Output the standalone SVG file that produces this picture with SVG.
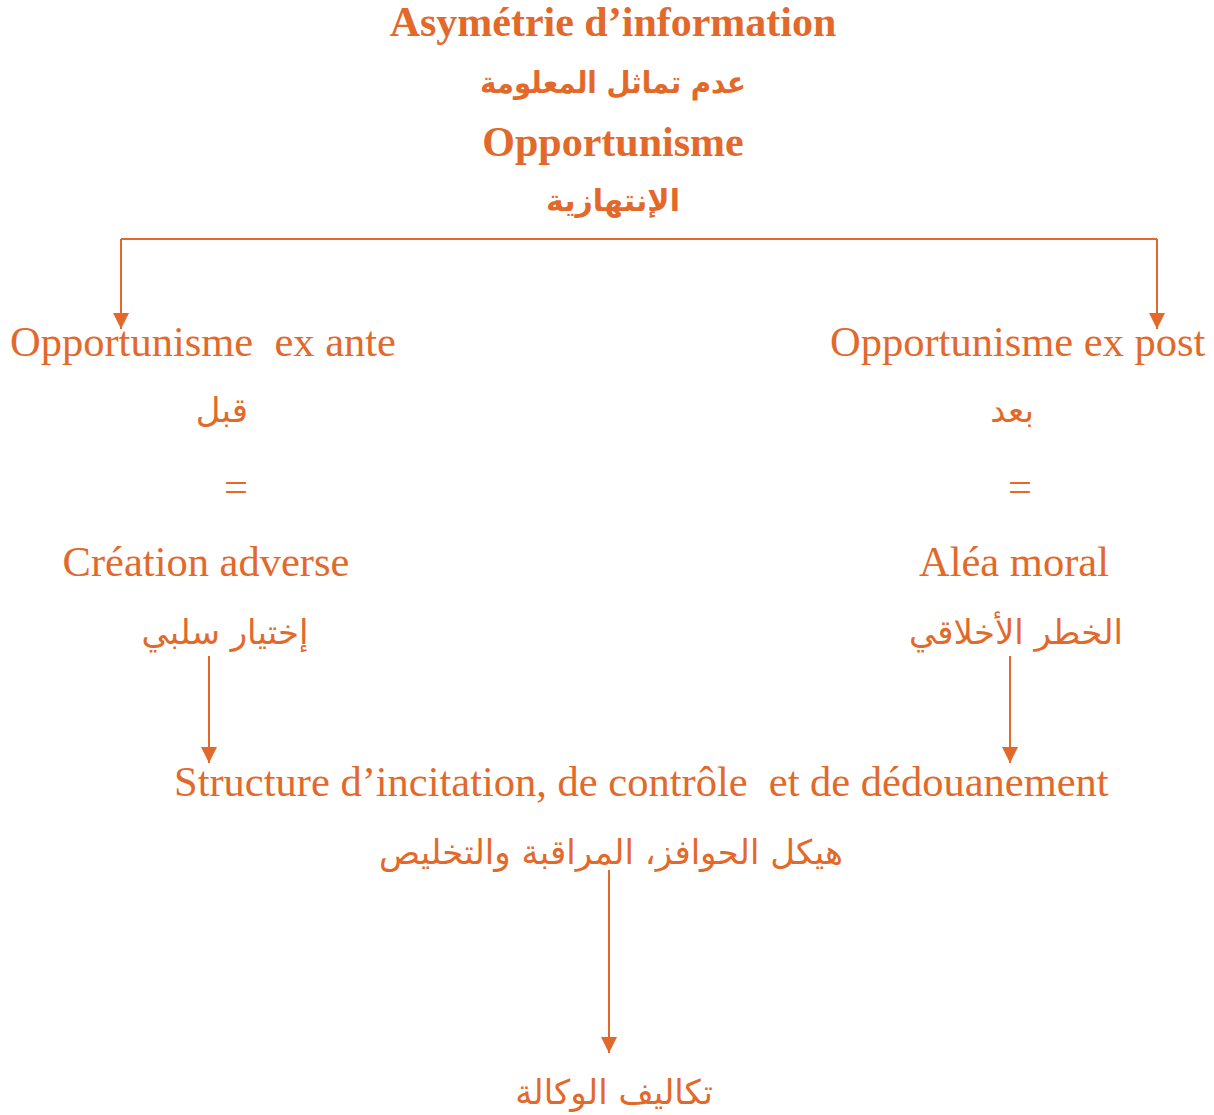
<svg xmlns="http://www.w3.org/2000/svg" width="1214" height="1115" viewBox="0 0 1214 1115">
  <defs>
    <style>
      text { fill: #E3692B; font-family: "Liberation Serif", "DejaVu Sans", serif; }
      .b { font-weight: bold; font-size: 42px; }
      .r { font-size: 42.5px; }
      .ar { font-family: "DejaVu Sans", "Liberation Serif", sans-serif; font-size: 34px; }
      .arb { font-family: "DejaVu Sans", "Liberation Serif", sans-serif; font-size: 30px; font-weight: bold; }
      .c { text-anchor: middle; }
      .ln { stroke: #E3692B; stroke-width: 2; fill: none; }
    </style>
    <marker id="ah" markerWidth="16" markerHeight="16" refX="16" refY="8" orient="auto" markerUnits="userSpaceOnUse">
      <path d="M0,0 L16,8 L0,16 Z" fill="#E3692B"/>
    </marker>
  </defs>
  <rect width="1214" height="1115" fill="#ffffff"/>

  <g id="title">
    <text class="b c" x="613" y="36">Asymétrie d’information</text>
    <text class="arb c" x="613" y="93" direction="rtl" textLength="266" lengthAdjust="spacingAndGlyphs">عدم تماثل المعلومة</text>
    <text class="b c" x="613" y="156">Opportunisme</text>
    <text class="arb c" x="613" y="211" direction="rtl">الإنتهازية</text>
  </g>

  <g id="ex-ante">
    <text class="r" x="10" y="356" xml:space="preserve">Opportunisme  ex ante</text>
    <text class="ar c" x="222" y="422" direction="rtl">قبل</text>
    <text class="r c" x="236" y="501">=</text>
    <text class="r c" x="206" y="576">Création adverse</text>
    <text class="ar c" x="225" y="644" direction="rtl">إختيار سلبي</text>
  </g>

  <g id="ex-post">
    <text class="r" x="830" y="356">Opportunisme ex post</text>
    <text class="ar c" x="1012" y="422" direction="rtl">بعد</text>
    <text class="r c" x="1020" y="501">=</text>
    <text class="r c" x="1014" y="576">Aléa moral</text>
    <text class="ar c" x="1016" y="644" direction="rtl">الخطر الأخلاقي</text>
  </g>

  <g id="structure">
    <text class="r" x="174" y="796" xml:space="preserve">Structure d’incitation, de contrôle  et de dédouanement</text>
    <text class="ar c" x="611" y="864" direction="rtl">هيكل الحوافز، المراقبة والتخليص</text>
  </g>

  <g id="agency-costs">
    <text class="ar c" x="614" y="1104" direction="rtl">تكاليف الوكالة</text>
  </g>

  <g id="connectors">
    <path class="ln" d="M121,239 L1157,239"/>
    <path class="ln" d="M121,239 L121,329" marker-end="url(#ah)"/>
    <path class="ln" d="M1157,239 L1157,329" marker-end="url(#ah)"/>
    <path class="ln" d="M209,656 L209,763" marker-end="url(#ah)"/>
    <path class="ln" d="M1010,656 L1010,763" marker-end="url(#ah)"/>
    <path class="ln" d="M609,870 L609,1053" marker-end="url(#ah)"/>
  </g>
</svg>
